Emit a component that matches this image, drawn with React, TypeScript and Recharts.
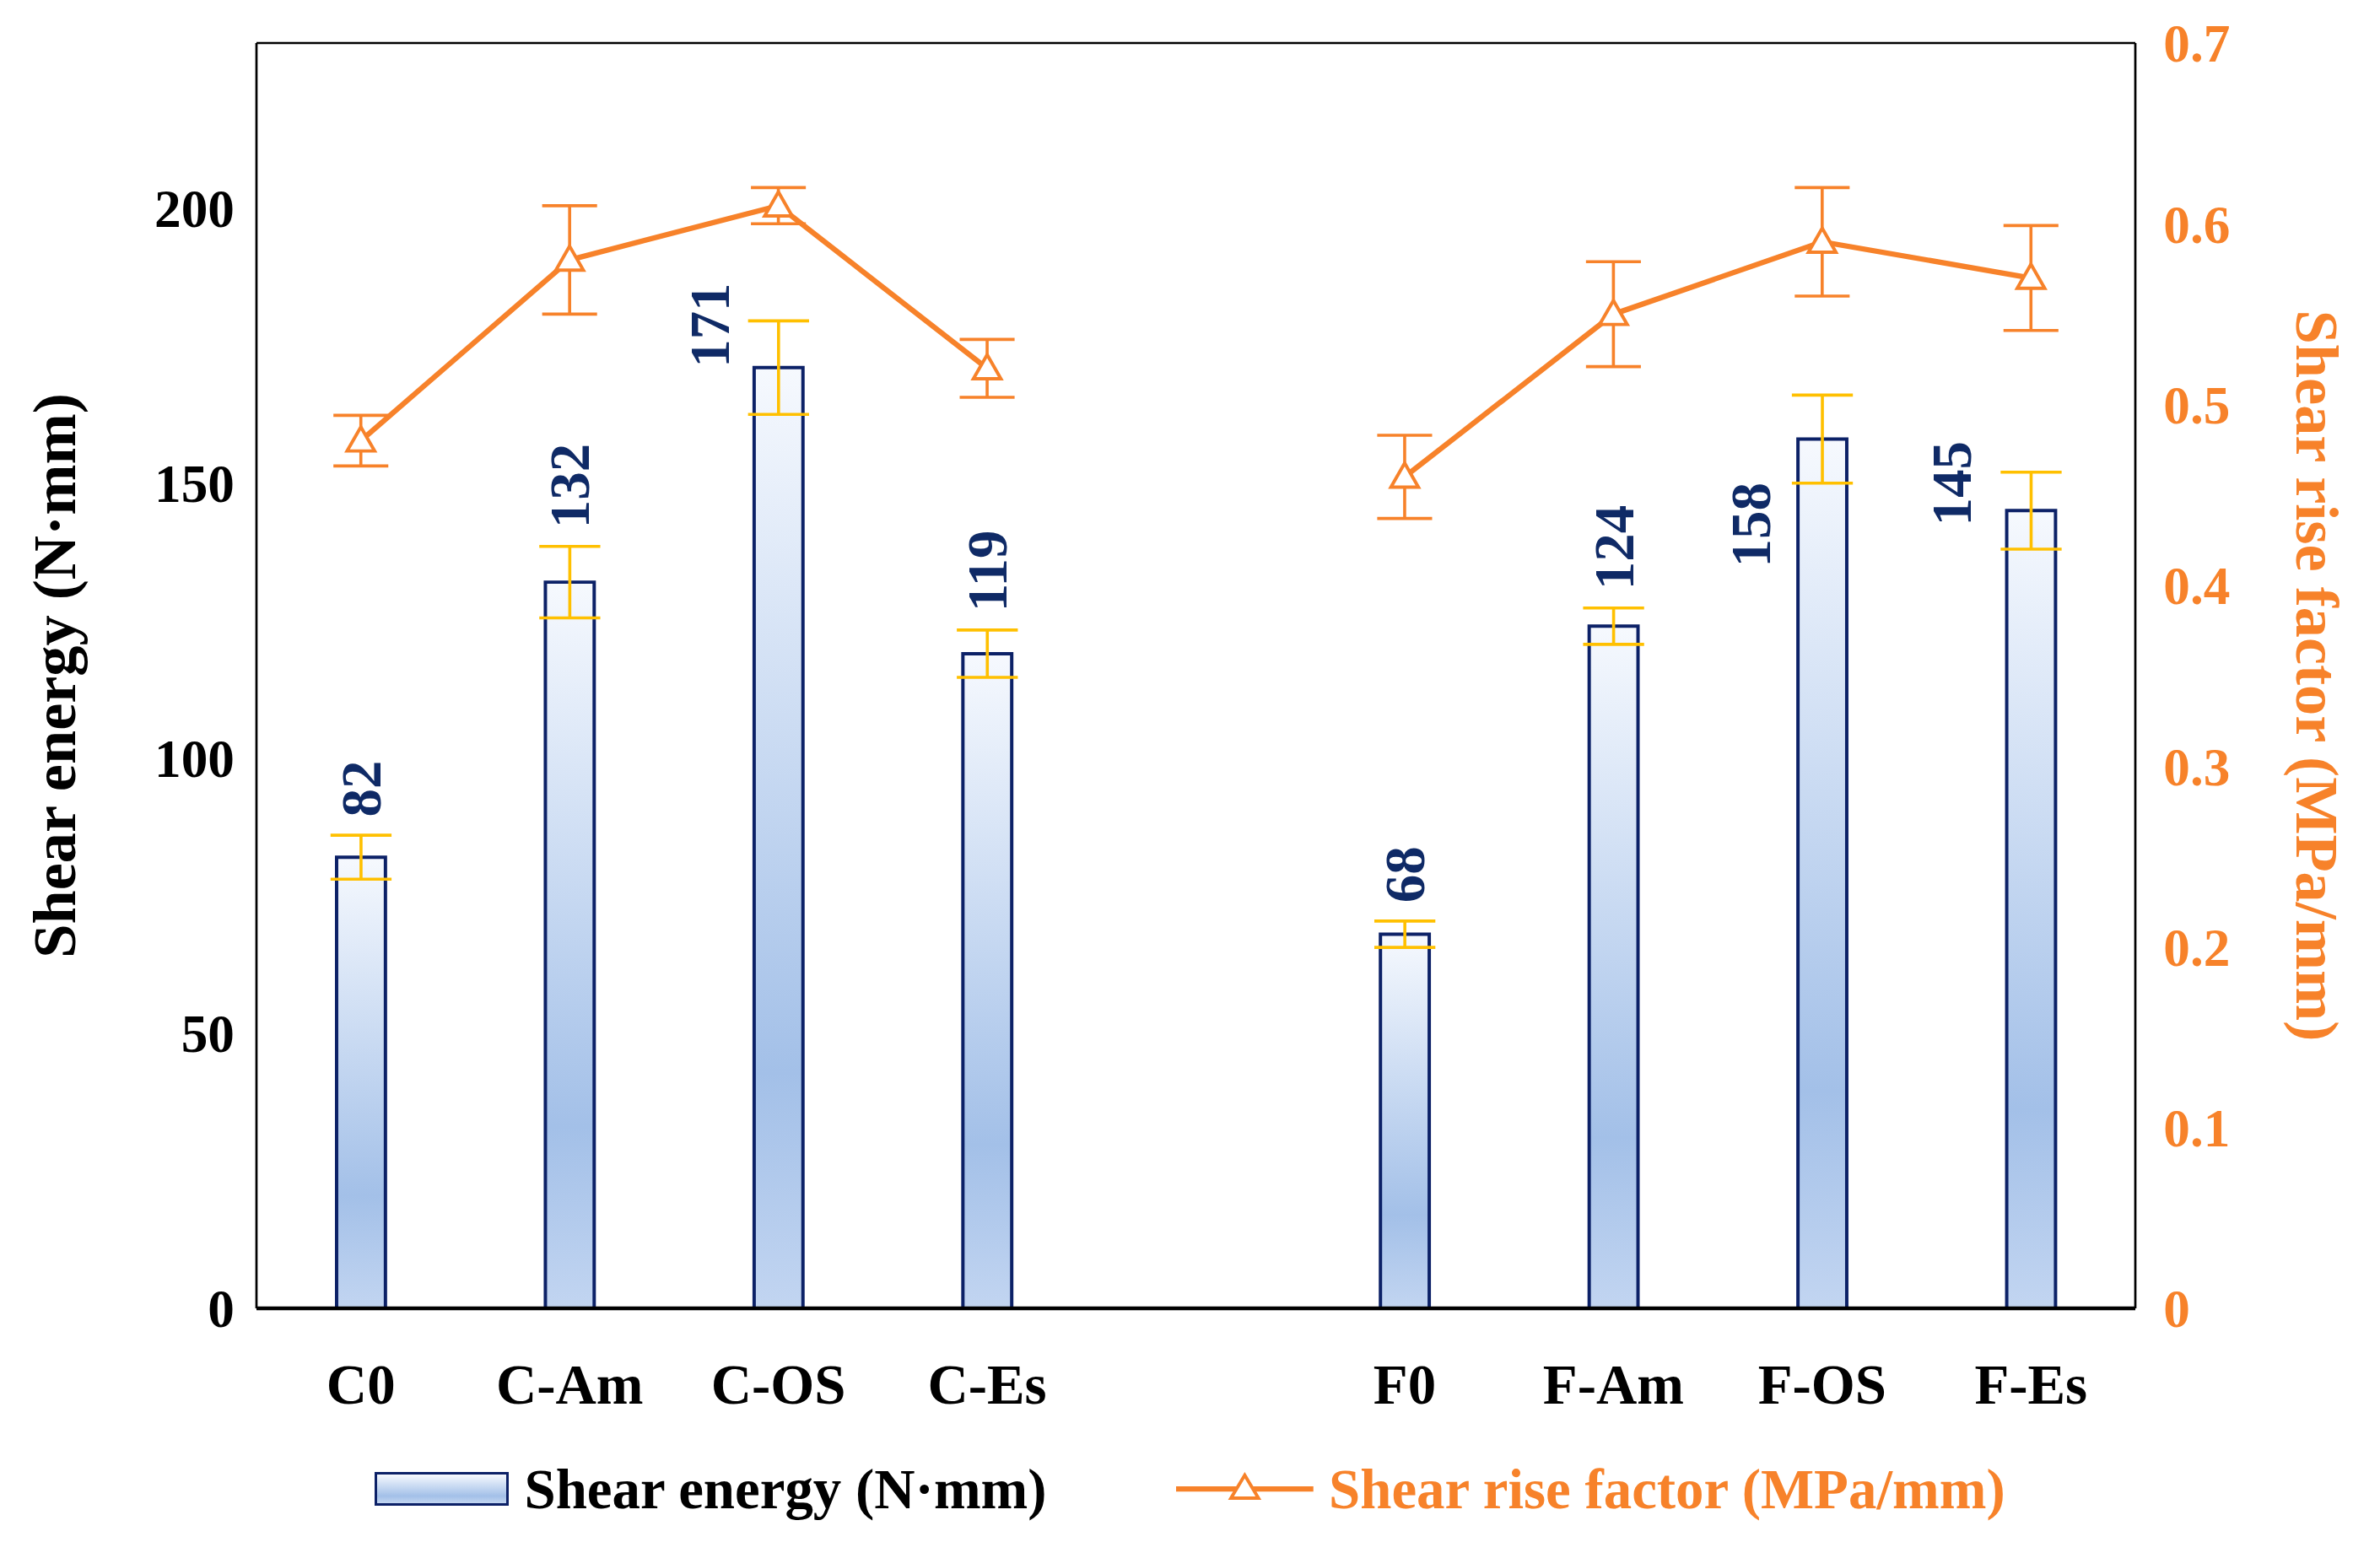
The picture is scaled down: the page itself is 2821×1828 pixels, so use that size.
import { ComposedChart, Bar, Line, XAxis, YAxis, ErrorBar, LabelList, ReferenceLine } from 'recharts';

const categories = ['C0', 'C-Am', 'C-OS', 'C-Es', '', 'F0', 'F-Am', 'F-OS', 'F-Es'];
const shearEnergy = [82, 132, 171, 119, null, 68, 124, 158, 145];
const shearEnergyErr = [4, 6.5, 8.5, 4.3, 0, 2.4, 3.3, 8, 7];
const riseFactor = [0.48, 0.58, 0.61, 0.52, null, 0.46, 0.55, 0.59, 0.57];
const riseFactorErr = [0.014, 0.03, 0.01, 0.016, 0, 0.023, 0.029, 0.03, 0.029];
const leftTicks = [0, 50, 100, 150, 200];
const rightTicks = [0, 0.1, 0.2, 0.3, 0.4, 0.5, 0.6, 0.7];

const data = categories.map((c, i) => ({
  name: c,
  energy: shearEnergy[i],
  energyErr: shearEnergyErr[i],
  rise: riseFactor[i],
  riseErr: riseFactorErr[i],
}));

const S = 1.808;
const FONT = '"Liberation Serif", "Times New Roman", serif';
const NAVY = '#0f2a66';
const ORANGE = '#f7822a';
const YELLOW = '#ffc000';

// labels drawn beside the bar instead of above it: [dx, dy from bar top] in display px
const labelShift: Record<string, [number, number]> = {
  'C-OS': [-45, 0],
  'F-OS': [-47, 84],
  'F-Es': [-52, 10],
};

const EnergyLabel = (props: any) => {
  const { x, y, width, value } = props;
  const i = categories.indexOf(value);
  const v = shearEnergy[i];
  if (v == null || i < 0) return null;
  const cx = x + width / 2;
  let px = cx;
  let py: number;
  const sh = labelShift[value];
  if (sh) {
    px = cx + sh[0] * S;
    py = y + sh[1] * S;
  } else {
    py = y - shearEnergyErr[i] * 3.6 * S - 12 * S;
  }
  return (
    <text
      x={px}
      y={py}
      transform={`rotate(-90 ${px} ${py})`}
      textAnchor="start"
      dominantBaseline="central"
      fill={NAVY}
      fontFamily={FONT}
      fontWeight="bold"
      fontSize={37 * S}
    >
      {v}
    </text>
  );
};

const Tri = (props: any) => {
  const { cx, cy, payload } = props;
  if (payload.rise == null) return null;
  const r = 9 * S;
  return (
    <path
      d={`M${cx},${cy - r} L${cx + r},${cy + r * 0.75} L${cx - r},${cy + r * 0.75} Z`}
      fill="#fff"
      stroke={ORANGE}
      strokeWidth={2.2 * S}
    />
  );
};

export default function App() {
  const tickStyle = { fontFamily: FONT, fontWeight: 'bold' as const, fontSize: 35 * S };
  return (
    <div style={{ position: 'absolute', left: 0, top: 0, width: 2821, height: 1828, background: '#fff' }}>
      <ComposedChart
        width={2821}
        height={1828}
        data={data}
        margin={{ top: 51, right: 90, bottom: 157, left: 104 }}
        barCategoryGap={0}
      >
        <defs>
          <linearGradient id="barGrad" x1="0" y1="0" x2="0" y2="1">
            <stop offset="0%" stopColor="#f6f9fe" />
            <stop offset="75%" stopColor="#a3c0e8" />
            <stop offset="100%" stopColor="#c2d5f1" />
          </linearGradient>
        </defs>
        <XAxis
          dataKey="name"
          height={120}
          axisLine={{ stroke: '#000', strokeWidth: 2.5 * S }}
          tickLine={false}
          tick={{ ...tickStyle, fontSize: 37 * S, fill: '#000', dy: 32 * S }}
          interval={0}
        />
        <YAxis
          yAxisId="left"
          width={200}
          domain={[0, 230]}
          ticks={leftTicks}
          axisLine={{ stroke: '#000', strokeWidth: 1.5 * S }}
          tickLine={false}
          tick={{ ...tickStyle, fill: '#000', dx: -10 * S }}
          label={{
            value: 'Shear energy (N·mm)', angle: -90, position: 'insideLeft', dx: -25 * S,
            style: { ...tickStyle, fontSize: 40 * S, fill: '#000', textAnchor: 'middle' },
          }}
        />
        <YAxis
          yAxisId="right"
          orientation="right"
          width={200}
          domain={[0, 0.7]}
          ticks={rightTicks}
          axisLine={{ stroke: '#000', strokeWidth: 1.5 * S }}
          tickLine={false}
          tick={{ ...tickStyle, fill: ORANGE, dx: 14 * S }}
          tickFormatter={(v: number) => (v === 0 ? '0' : v.toFixed(1))}
          label={{
            value: 'Shear rise factor (MPa/mm)', angle: 90, position: 'insideRight', dx: 12 * S,
            style: { ...tickStyle, fontSize: 40 * S, fill: ORANGE, textAnchor: 'middle' },
          }}
        />
        <ReferenceLine yAxisId="left" y={230} stroke="#000" strokeWidth={1.5 * S} />
        <Bar
          yAxisId="left"
          dataKey="energy"
          barSize={32 * S}
          fill="url(#barGrad)"
          stroke="#0c2167"
          strokeWidth={2.2 * S}
          isAnimationActive={false}
        >
          <ErrorBar dataKey="energyErr" width={20 * S} stroke={YELLOW} strokeWidth={2 * S} />
          <LabelList dataKey="name" content={EnergyLabel} />
        </Bar>
        <Line
          yAxisId="right"
          dataKey="rise"
          stroke={ORANGE}
          strokeWidth={3.5 * S}
          dot={Tri}
          activeDot={false}
          connectNulls={false}
          isAnimationActive={false}
        >
          <ErrorBar dataKey="riseErr" width={18 * S} stroke={ORANGE} strokeWidth={2 * S} />
        </Line>
      </ComposedChart>
      <div style={{
        position: 'absolute', top: 955 * S, left: 0, width: 2821, display: 'flex',
        justifyContent: 'center', alignItems: 'center', fontFamily: FONT, fontWeight: 'bold',
        fontSize: 37 * S,
      }}>
        <div style={{
          width: 88 * S, height: 22 * S, border: `${2 * S}px solid #0c2167`, boxSizing: 'border-box',
          background: 'linear-gradient(#f6f9fe, #a3c0e8 75%, #c2d5f1)', marginRight: 10 * S,
        }} />
        <span style={{ color: '#000', marginRight: 85 * S }}>Shear energy (N·mm)</span>
        <svg width={90 * S} height={30 * S} style={{ marginRight: 10 * S }}>
          <line x1={0} y1={15 * S} x2={90 * S} y2={15 * S} stroke={ORANGE} strokeWidth={3.5 * S} />
          <path d={`M${45 * S},${6 * S} L${54 * S},${21 * S} L${36 * S},${21 * S} Z`} fill="#fff" stroke={ORANGE} strokeWidth={2.2 * S} />
        </svg>
        <span style={{ color: ORANGE }}>Shear rise factor (MPa/mm)</span>
      </div>
    </div>
  );
}
